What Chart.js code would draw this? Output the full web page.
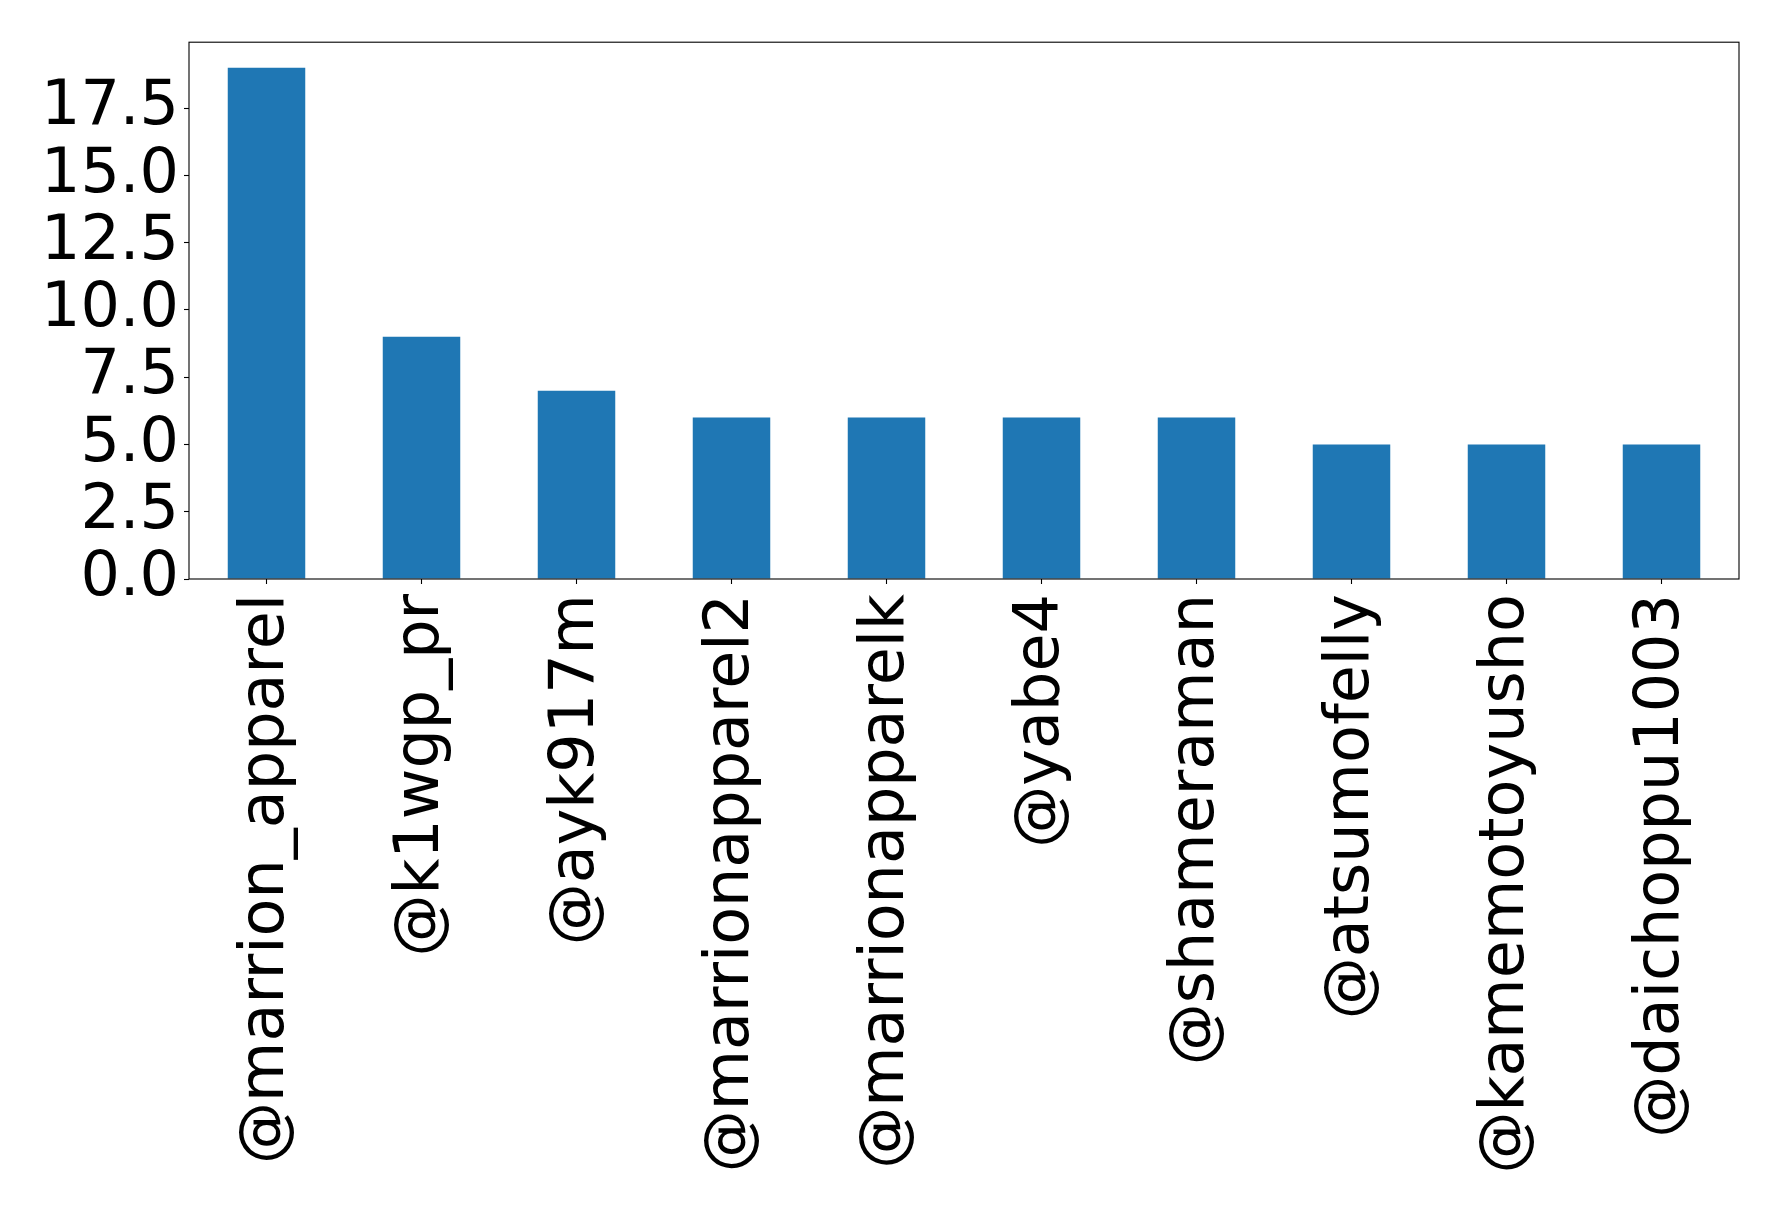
<!DOCTYPE html>
<html>
<head>
<meta charset="utf-8">
<script src="https://cdn.jsdelivr.net/npm/chart.js@4/dist/chart.umd.min.js"></script>
<style>
  html, body { margin: 0; padding: 0; background: #fff; }
  canvas { display: block; }
</style>
</head>
<body>
<canvas id="c" width="1778" height="1212"></canvas>
<script>
const categories = ["@marrion_apparel", "@k1wgp_pr", "@ayk917m", "@marrionapparel2", "@marrionapparelk", "@yabe4", "@shameraman", "@atsumofelly", "@kamemotoyusho", "@daichoppu1003"];
const counts = [19, 9, 7, 6, 6, 6, 6, 5, 5, 5];
const yTickValues = [0, 2.5, 5, 7.5, 10, 12.5, 15, 17.5];
const yMax = 19.95;

const frame = {
  id: 'frame',
  afterDraw(chart) {
    const a = chart.chartArea, ctx = chart.ctx;
    ctx.save();
    ctx.strokeStyle = '#000';
    ctx.lineWidth = 1.1;
    ctx.strokeRect(a.left, a.top, a.right - a.left, a.bottom - a.top);
    ctx.restore();
  }
};

const font = { family: 'DejaVu Sans', size: 62 };

new Chart(document.getElementById('c'), {
  type: 'bar',
  data: {
    labels: categories,
    datasets: [{
      data: counts,
      backgroundColor: '#1f77b4',
      borderWidth: 0,
      categoryPercentage: 1.0,
      barPercentage: 0.5
    }]
  },
  options: {
    responsive: false,
    animation: false,
    layout: { padding: { top: 40, right: 39, left: 0, bottom: 0 } },
    plugins: { legend: { display: false }, tooltip: { enabled: false } },
    scales: {
      x: {
        offset: true,
        grid: { display: true, offset: false, drawOnChartArea: false, drawTicks: true, tickLength: 5, tickColor: '#000', tickWidth: 1.1 },
        border: { display: false },
        ticks: { color: '#000', font: font, maxRotation: 90, minRotation: 90, autoSkip: false, padding: 10 },
        afterFit(scale) { scale.height = 633; }
      },
      y: {
        min: 0,
        max: yMax,
        grid: { display: true, drawOnChartArea: false, drawTicks: true, tickLength: 5, tickColor: '#000', tickWidth: 1.1 },
        border: { display: false },
        ticks: { color: '#000', font: font, padding: 5, autoSkip: false, callback: (v) => Number(v).toFixed(1) },
        afterBuildTicks(scale) { scale.ticks = yTickValues.map(v => ({ value: v })); },
        afterFit(scale) { scale.width = 189; }
      }
    }
  },
  plugins: [frame]
});
</script>
</body>
</html>
